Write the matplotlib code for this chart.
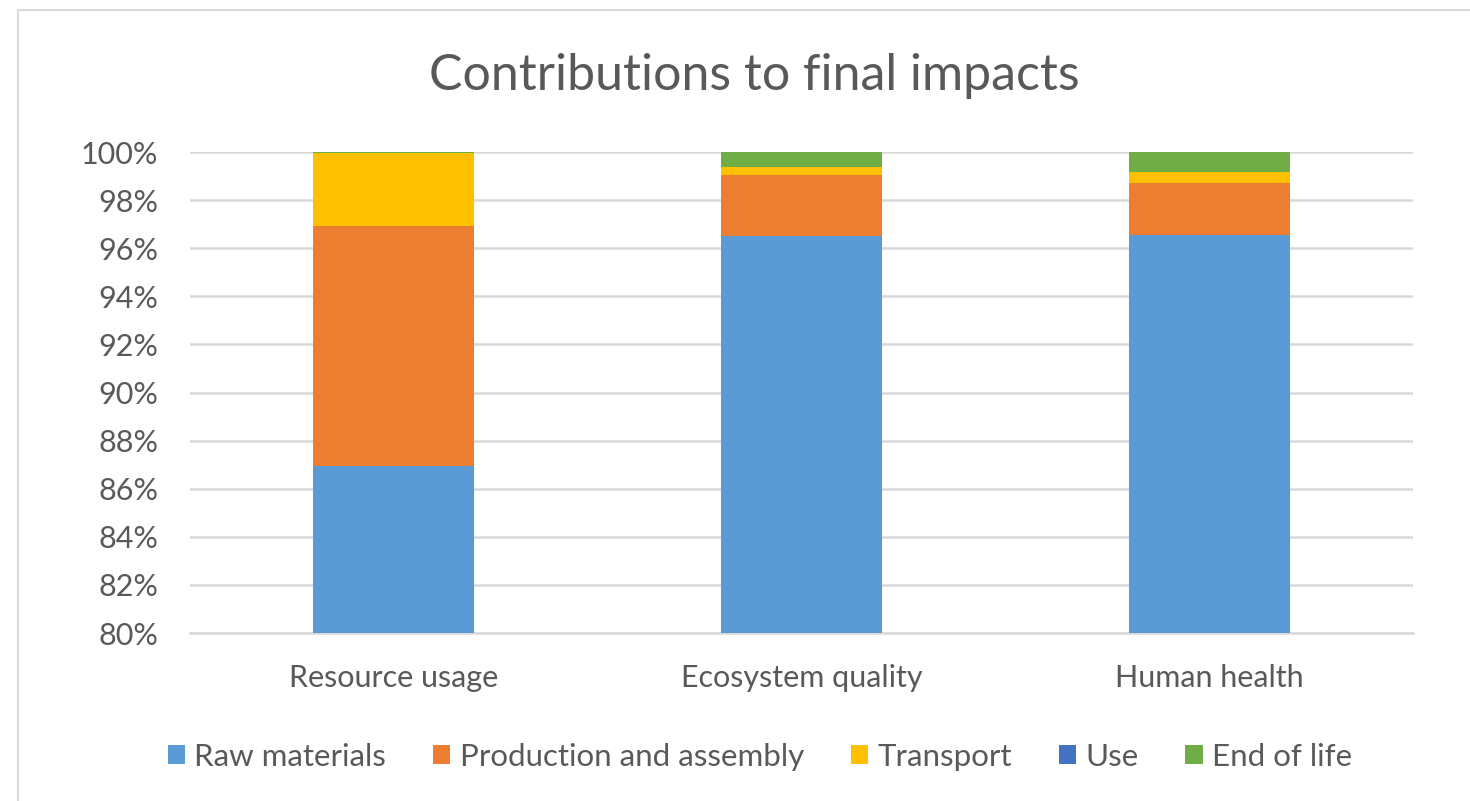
import matplotlib.pyplot as plt
import matplotlib.patches as mpatches
import numpy as np
from matplotlib.ticker import FuncFormatter

plt.rcParams['font.family'] = ['Lato', 'DejaVu Sans']

# data (percent of total impact)
categories = ['Resource usage', 'Ecosystem quality', 'Human health']
series_names = ['Raw materials', 'Production and assembly', 'Transport', 'Use', 'End of life']
raw_materials = [86.95, 96.50, 96.55]
production = [9.97, 2.54, 2.15]
transport = [3.03, 0.35, 0.48]
use = [0.0, 0.0, 0.0]
end_of_life = [0.05, 0.61, 0.82]
colors = ['#5B9BD5', '#ED7D31', '#FFC000', '#4472C4', '#70AD47']

fig = plt.figure(figsize=(14.7, 8.01), dpi=100)
ax = fig.add_axes([0.1293, 0.2097, 0.8320, 0.6005])

# light chart frame like the Excel chart area
fig.patches.append(mpatches.Rectangle((18/1470, -0.05), 1.2, 1 - 10/801 + 0.05,
                                      transform=fig.transFigure, fill=False,
                                      edgecolor='#d9d9d9', linewidth=1.5))

x = np.arange(len(categories))
bottom = np.zeros(len(categories))
for name, vals, c in zip(series_names, [raw_materials, production, transport, use, end_of_life], colors):
    ax.bar(x, vals, width=0.395, bottom=bottom, color=c, label=name, zorder=3)
    bottom += np.array(vals)

ax.set_ylim(80, 100)
ax.set_xlim(-0.5, 2.5)
ax.set_yticks(np.arange(80, 101, 2))
ax.yaxis.set_major_formatter(FuncFormatter(lambda v, p: '%d%%' % v))
ax.set_xticks(x)
ax.set_xticklabels(categories)
ax.grid(axis='y', color='#d9d9d9', linewidth=1.8, zorder=0)
for s in ['top', 'right', 'left']:
    ax.spines[s].set_visible(False)
ax.spines['bottom'].set_color('#d9d9d9')
ax.spines['bottom'].set_linewidth(1.8)
ax.tick_params(axis='both', length=0, labelsize=22, colors='#595959')
ax.tick_params(axis='x', pad=22)
ax.tick_params(axis='y', pad=23)

fig.text(0.513, 0.905, 'Contributions to final impacts', ha='center', va='center',
         fontsize=36, color='#595959')

leg = fig.legend(loc='center', bbox_to_anchor=(0.517, 0.055), ncol=5, frameon=False,
                 fontsize=22.5, handlelength=0.55, handleheight=0.55, handletextpad=0.3,
                 columnspacing=1.5)
for t in leg.get_texts():
    t.set_color('#595959')

plt.savefig('out.png', dpi=100)
